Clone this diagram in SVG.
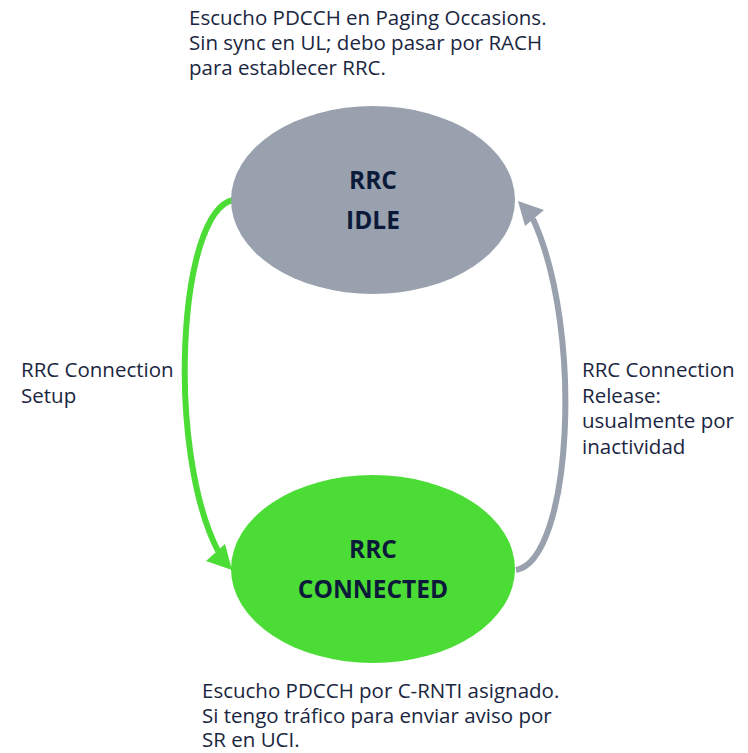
<svg xmlns="http://www.w3.org/2000/svg" width="748" height="753" viewBox="0 0 748 753">
<style>
.t{font-family:"Open Sans","Noto Sans",sans-serif;font-size:20.5px;fill:#1a2640}
.n{font-family:"Open Sans","Noto Sans",sans-serif;font-size:24.5px;font-weight:bold;fill:#0c1a3a;text-anchor:middle}
</style>
<rect width="748" height="753" fill="#ffffff"/>
<g id="connectors" fill="none" stroke-width="6">
<path d="M233,200 C178,212 166,450 218,551" stroke="#4cdc36"/>
<polygon points="232,570 206,561 225,544" fill="#4cdc36" stroke="none"/>
<path d="M516,570 C572,560 584,330 533,219" stroke="#98a1ad"/>
<polygon points="518,201 544,210 525,226" fill="#98a1ad" stroke="none"/>
</g>
<g id="idle">
<ellipse cx="373" cy="200" rx="142" ry="94" fill="#98a1ad"/>
<text class="n" x="373" y="189">RRC</text>
<text class="n" x="373" y="229">IDLE</text>
</g>
<g id="connected">
<ellipse cx="373" cy="569" rx="142" ry="94" fill="#4cdc36"/>
<text class="n" x="373" y="558">RRC</text>
<text class="n" x="373" y="598">CONNECTED</text>
</g>
<g id="note-idle">
<text class="t" x="189" y="25">Escucho PDCCH en Paging Occasions.</text>
<text class="t" x="189" y="50">Sin sync en UL; debo pasar por RACH</text>
<text class="t" x="189" y="75">para establecer RRC.</text>
</g>
<g id="label-setup">
<text class="t" x="21" y="377">RRC Connection</text>
<text class="t" x="21" y="403">Setup</text>
</g>
<g id="label-release">
<text class="t" x="582" y="377">RRC Connection</text>
<text class="t" x="582" y="402.5">Release:</text>
<text class="t" x="582" y="428">usualmente por</text>
<text class="t" x="582" y="453.5">inactividad</text>
</g>
<g id="note-connected">
<text class="t" x="202" y="698">Escucho PDCCH por C-RNTI asignado.</text>
<text class="t" x="202" y="723">Si tengo tráfico para enviar aviso por</text>
<text class="t" x="202" y="747">SR en UCI.</text>
</g>
</svg>
